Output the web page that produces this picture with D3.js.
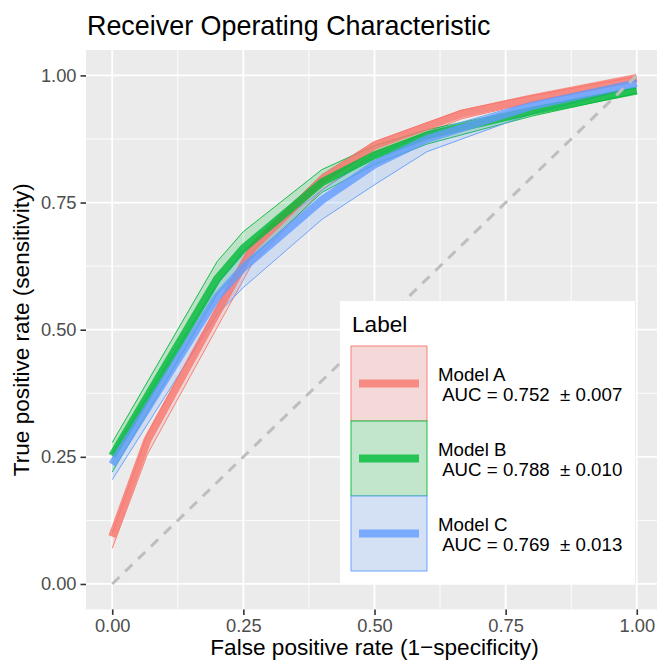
<!DOCTYPE html>
<html>
<head>
<meta charset="utf-8">
<script src="https://cdn.jsdelivr.net/npm/d3@7"></script>
<style>
  html, body { margin: 0; padding: 0; background: #fff; }
  svg { display: block; font-family: "Liberation Sans", Arial, sans-serif; }
</style>
</head>
<body>
<svg id="chart" width="657" height="663"></svg>
<script>
// ROC curves: mean TPR per model with a ±1 sd band across folds
const models = ["Model A", "Model B", "Model C"];
const aucMean = [0.752, 0.788, 0.769];
const aucSd = [0.007, 0.010, 0.013];
const colors = ["#F8766D", "#00BA38", "#619CFF"];

const fprA = [0, 0.067, 0.267, 0.4, 0.5, 0.667, 0.8, 1];
const tprA = [0.093, 0.283, 0.66, 0.795, 0.862, 0.925, 0.955, 0.995];
const lowA = [0.07, 0.255, 0.63, 0.775, 0.848, 0.915, 0.947, 0.99];
const highA = [0.10, 0.295, 0.672, 0.805, 0.87, 0.932, 0.96, 0.998];

const fprB = [0, 0.2, 0.25, 0.4, 0.5, 0.6, 0.8, 1];
const tprB = [0.252, 0.60, 0.66, 0.79, 0.843, 0.882, 0.93, 0.97];
const lowB = [0.22, 0.57, 0.625, 0.77, 0.825, 0.865, 0.92, 0.965];
const highB = [0.278, 0.634, 0.693, 0.815, 0.862, 0.893, 0.937, 0.975];

const fprC = [0, 0.2, 0.25, 0.4, 0.5, 0.6, 0.8, 1];
const tprC = [0.235, 0.565, 0.622, 0.755, 0.825, 0.875, 0.94, 0.985];
const lowC = [0.205, 0.53, 0.583, 0.717, 0.785, 0.85, 0.925, 0.978];
const highC = [0.258, 0.59, 0.655, 0.775, 0.842, 0.888, 0.948, 0.99];

const axisTicks = [0, 0.25, 0.5, 0.75, 1];
const minorTicks = [0.125, 0.375, 0.625, 0.875];

const series = [
  { fpr: fprA, tpr: tprA, low: lowA, high: highA },
  { fpr: fprB, tpr: tprB, low: lowB, high: highB },
  { fpr: fprC, tpr: tprC, low: lowC, high: highC }
].map((s, i) => ({
  name: models[i], color: colors[i],
  points: s.fpr.map((f, j) => ({ f, t: s.tpr[j], lo: s.low[j], hi: s.high[j] }))
}));

const svg = d3.select("#chart");
const panel = { left: 86, top: 50, right: 663, bottom: 609.4 };

const x = d3.scaleLinear().domain([-0.05, 1.05]).range([panel.left, panel.right]);
const y = d3.scaleLinear().domain([-0.05, 1.05]).range([panel.bottom, panel.top]);

// panel background and grid
svg.append("rect")
  .attr("x", panel.left).attr("y", panel.top)
  .attr("width", panel.right - panel.left).attr("height", panel.bottom - panel.top)
  .attr("fill", "#EBEBEB");

const grid = svg.append("g");
minorTicks.forEach(v => {
  grid.append("line").attr("x1", x(v)).attr("x2", x(v)).attr("y1", panel.top).attr("y2", panel.bottom)
    .attr("stroke", "#fff").attr("stroke-width", 0.9);
  grid.append("line").attr("y1", y(v)).attr("y2", y(v)).attr("x1", panel.left).attr("x2", panel.right)
    .attr("stroke", "#fff").attr("stroke-width", 0.9);
});
axisTicks.forEach(v => {
  grid.append("line").attr("x1", x(v)).attr("x2", x(v)).attr("y1", panel.top).attr("y2", panel.bottom)
    .attr("stroke", "#fff").attr("stroke-width", 1.8);
  grid.append("line").attr("y1", y(v)).attr("y2", y(v)).attr("x1", panel.left).attr("x2", panel.right)
    .attr("stroke", "#fff").attr("stroke-width", 1.8);
});

// clip marks to the panel
svg.append("clipPath").attr("id", "panel-clip").append("rect")
  .attr("x", panel.left).attr("y", panel.top)
  .attr("width", panel.right - panel.left).attr("height", panel.bottom - panel.top);
const plot = svg.append("g").attr("clip-path", "url(#panel-clip)");

const area = d3.area().x(d => x(d.f)).y0(d => y(d.lo)).y1(d => y(d.hi));
const lineLo = d3.line().x(d => x(d.f)).y(d => y(d.lo));
const lineHi = d3.line().x(d => x(d.f)).y(d => y(d.hi));
const lineMean = d3.line().x(d => x(d.f)).y(d => y(d.t));

// bands
series.forEach(s => {
  plot.append("path").attr("d", area(s.points))
    .attr("fill", s.color).attr("fill-opacity", 0.2).attr("stroke", "none");
  [lineLo, lineHi].forEach(gen => {
    plot.append("path").attr("d", gen(s.points))
      .attr("fill", "none").attr("stroke", s.color).attr("stroke-width", 0.9);
  });
});

// mean curves
series.forEach(s => {
  plot.append("path").attr("d", lineMean(s.points))
    .attr("fill", "none").attr("stroke", s.color).attr("stroke-opacity", 0.8)
    .attr("stroke-width", 8).attr("stroke-linejoin", "round");
});

// chance line
plot.append("line")
  .attr("x1", x(0)).attr("y1", y(0)).attr("x2", x(1)).attr("y2", y(1))
  .attr("stroke", "#BEBEBE").attr("stroke-width", 3).attr("stroke-dasharray", "10,8");

// axes
const xAxis = d3.axisBottom(x).tickValues(axisTicks).tickFormat(d3.format(".2f"))
  .tickSize(5.5).tickPadding(4);
const yAxis = d3.axisLeft(y).tickValues(axisTicks).tickFormat(d3.format(".2f"))
  .tickSize(5.5).tickPadding(4);

const gx = svg.append("g").attr("transform", `translate(0,${panel.bottom})`).call(xAxis);
const gy = svg.append("g").attr("transform", `translate(${panel.left},0)`).call(yAxis);
[gx, gy].forEach(g => {
  g.select(".domain").remove();
  g.selectAll(".tick line").attr("stroke", "#333").attr("stroke-width", 1.6);
  g.selectAll(".tick text").attr("fill", "#4D4D4D")
    .style("font-size", "18.3px").style("font-family", "'Liberation Sans', Arial, sans-serif");
});

// titles
svg.append("text").attr("x", 87).attr("y", 35)
  .style("font-size", "26.9px").attr("fill", "#000")
  .text("Receiver Operating Characteristic");

svg.append("text").attr("x", (panel.left + panel.right) / 2).attr("y", 655)
  .attr("text-anchor", "middle").style("font-size", "22.6px").attr("fill", "#000")
  .text("False positive rate (1\u2212specificity)");

svg.append("text")
  .attr("transform", `translate(29,${(panel.top + panel.bottom) / 2}) rotate(-90)`)
  .attr("text-anchor", "middle").style("font-size", "22.6px").attr("fill", "#000")
  .text("True positive rate (sensitivity)");

// legend
const legend = svg.append("g");
legend.append("rect").attr("x", 340).attr("y", 301).attr("width", 295).attr("height", 282)
  .attr("fill", "#fff");
legend.append("text").attr("x", 352).attr("y", 332)
  .style("font-size", "22.6px").attr("fill", "#000").text("Label");

const keyW = 76, keyH = 75, keyX = 351, keyY = 346;
series.forEach((s, i) => {
  const ky = keyY + i * keyH;
  legend.append("rect").attr("x", keyX).attr("y", ky).attr("width", keyW).attr("height", keyH)
    .attr("fill", "#F2F2F2");
  legend.append("rect").attr("x", keyX).attr("y", ky).attr("width", keyW).attr("height", keyH)
    .attr("fill", s.color).attr("fill-opacity", 0.2)
    .attr("stroke", s.color).attr("stroke-width", 0.9);
  legend.append("line").attr("x1", keyX + 8).attr("x2", keyX + keyW - 8)
    .attr("y1", ky + keyH / 2).attr("y2", ky + keyH / 2)
    .attr("stroke", s.color).attr("stroke-opacity", 0.8).attr("stroke-width", 8);
  const t = legend.append("text").attr("x", 438).attr("y", ky + keyH / 2 - 2.5)
    .style("font-size", "18.7px").attr("fill", "#000").style("white-space", "pre")
    .attr("xml:space", "preserve");
  t.append("tspan").attr("x", 438).text(s.name);
  t.append("tspan").attr("x", 438).attr("dy", 19.5)
    .text(` AUC = ${aucMean[i].toFixed(3)}  \u00B1 ${aucSd[i].toFixed(3)}`);
});
</script>
</body>
</html>
